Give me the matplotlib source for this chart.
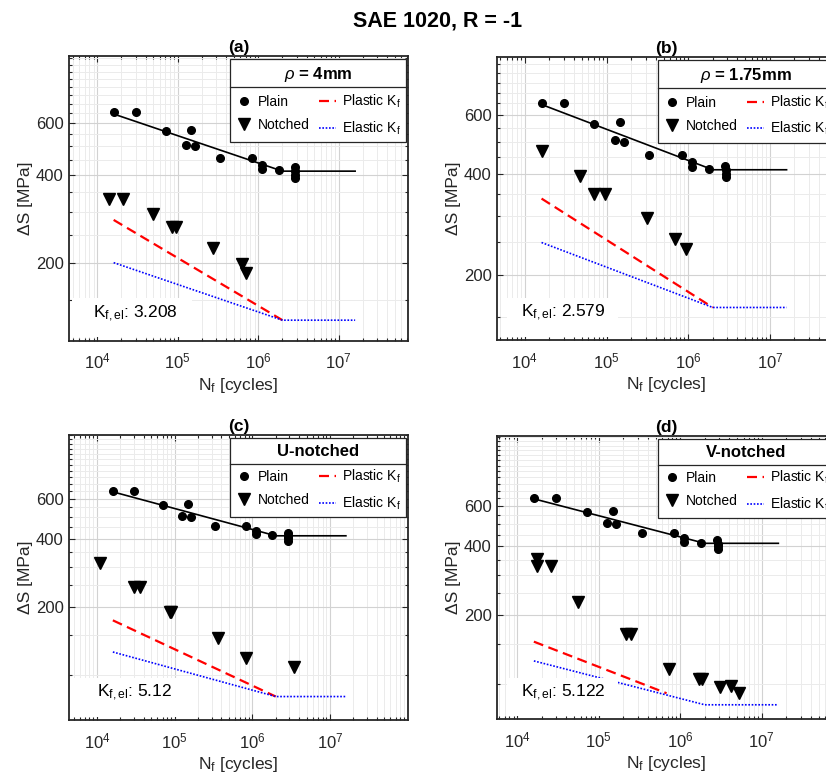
import numpy as np
import matplotlib
matplotlib.use('Agg')
import matplotlib.pyplot as plt
from matplotlib.ticker import LogLocator, FixedLocator, NullFormatter, FixedFormatter
from matplotlib.lines import Line2D
from matplotlib.patches import Rectangle
from matplotlib.transforms import IdentityTransform

plt.rcParams['font.family'] = ['Liberation Sans', 'DejaVu Sans']
plt.rcParams['mathtext.fontset'] = 'custom'
plt.rcParams['mathtext.rm'] = 'Liberation Sans'
plt.rcParams['mathtext.it'] = 'Liberation Sans:italic'
plt.rcParams['mathtext.bf'] = 'Liberation Sans:bold'

# plain specimens (same in every panel)
plain_N = [1.6e4, 3.0e4, 7.1e4, 1.26e5, 1.48e5, 1.62e5, 3.35e5, 8.3e5, 1.12e6, 1.12e6,
           1.8e6, 2.85e6, 2.9e6, 2.9e6, 2.9e6]
plain_S = [653, 653, 565, 504, 571, 500, 456, 456, 434, 419, 415, 424, 411, 401, 391]
fit_N = [1.6e4, 2e6, 1.6e7]
fit_S = [645, 412, 412]

# (a) rho = 4mm
notch_a_N = [1.42e4, 2.07e4, 4.9e4, 8.4e4, 9.4e4, 2.75e5, 6.3e5, 7.0e5]
notch_a_S = [331, 332, 294, 266, 266, 226, 199, 185]
plastic_a_N = [1.6e4, 2e6]
plastic_a_S = [281, 128]
elastic_a_S = [201, 128, 128]

# (b) rho = 1.75mm
notch_b_N = [1.63e4, 4.7e4, 7.1e4, 9.5e4, 3.1e5, 6.9e5, 9.4e5]
notch_b_S = [470, 396, 349, 349, 295, 256, 239]
plastic_b_N = [1.6e4, 2e6]
plastic_b_S = [338, 160]
elastic_b_S = [250, 160, 160]

# (c) U-notched
notch_c_N = [1.08e4, 3.0e4, 3.6e4, 8.7e4, 9.1e4, 3.6e5, 8.2e5, 3.4e6]
notch_c_S = [313, 244, 244, 189, 189, 145, 119, 108]
plastic_c_N = [1.6e4, 2e6]
plastic_c_S = [174, 80]
elastic_c_S = [126, 80, 80]

# (d) V-notched
notch_d_N = [1.76e4, 1.76e4, 2.6e4, 5.5e4, 2.16e5, 2.46e5, 7.3e5, 1.7e6, 1.85e6, 3.07e6, 4.15e6, 5.25e6]
notch_d_S = [352, 329, 329, 228, 165, 165, 116, 105, 105, 97, 98, 91]
plastic_d_N = [1.6e4, 6.8e5]
plastic_d_S = [153, 91]
elastic_d_S = [126, 81, 81]

panel_titles = ['(a)', '(b)', '(c)', '(d)']
legend_titles = [r'$\rho$ = 4mm', r'$\rho$ = 1.75mm', 'U-notched', 'V-notched']
kf_values = ['3.208', '2.579', '5.12', '5.122']

dark = '#262626'

fig = plt.figure(figsize=(8.26, 7.76), dpi=100)
fig.patch.set_facecolor('white')

panels = [
    dict(pos=[0.0839, 0.5610, 0.4097, 0.3669], xlim=(4.5e3, 7.2e7), ylim=(109, 1017),
         nN=notch_a_N, nS=notch_a_S, pN=plastic_a_N, pS=plastic_a_S, eS=elastic_a_S,
         box=(0.007, 0.012, 0.355, 0.138)),
    dict(pos=[0.6021, 0.5619, 0.4097, 0.3651], xlim=(4.6e3, 6.4e7), ylim=(128, 896),
         nN=notch_b_N, nS=notch_b_S, pN=plastic_b_N, pS=plastic_b_S, eS=elastic_b_S,
         box=(0.028, 0.012, 0.329, 0.135)),
    dict(pos=[0.0839, 0.0722, 0.4097, 0.3673], xlim=(4.4e3, 1e8), ylim=(63, 1152),
         nN=notch_c_N, nS=notch_c_S, pN=plastic_c_N, pS=plastic_c_S, eS=elastic_c_S,
         box=(0.007, 0.012, 0.355, 0.134)),
    dict(pos=[0.6021, 0.0731, 0.4097, 0.3651], xlim=(5.7e3, 8.1e7), ylim=(70, 1215),
         nN=notch_d_N, nS=notch_d_S, pN=plastic_d_N, pS=plastic_d_S, eS=elastic_d_S,
         box=(0.028, 0.012, 0.329, 0.133)),
]

legends = []
for i, p in enumerate(panels):
    ax = fig.add_axes(p['pos'])
    ax.set_xscale('log')
    ax.set_yscale('log')

    ax.plot(fit_N, fit_S, color='k', lw=1.2, zorder=3)
    h1, = ax.plot(plain_N, plain_S, 'o', color='k', ms=5.5, zorder=4)
    h2, = ax.plot(p['nN'], p['nS'], 'v', color='k', ms=8.5, zorder=4)
    h3, = ax.plot(p['pN'], p['pS'], color='#ff0000', lw=1.6, dashes=(4.5, 2.5), zorder=2)
    h4, = ax.plot(fit_N, p['eS'], color='#0000ff', lw=1.2, dashes=(1, 1), zorder=2)

    ax.set_xlim(*p['xlim'])
    ax.set_ylim(*p['ylim'])
    ax.xaxis.set_major_locator(FixedLocator([1e4, 1e5, 1e6, 1e7]))
    ax.xaxis.set_minor_locator(LogLocator(base=10, subs=np.arange(2, 10), numticks=30))
    ax.xaxis.set_minor_formatter(NullFormatter())
    ax.yaxis.set_major_locator(FixedLocator([200, 400, 600]))
    ax.yaxis.set_major_formatter(FixedFormatter(['200', '400', '600']))
    ax.yaxis.set_minor_locator(FixedLocator([v for v in range(50, 1300, 50) if v not in (200, 400, 600)]))
    ax.yaxis.set_minor_formatter(NullFormatter())

    ax.grid(True, which='major', color='#d2d2d2', lw=0.8)
    ax.grid(True, which='minor', color='#ebebeb', lw=0.7)
    ax.tick_params(which='both', direction='in', top=True, right=True, colors=dark,
                   labelsize=12, width=0.8)
    ax.tick_params(which='major', length=4)
    ax.tick_params(which='minor', length=2.2)
    ax.tick_params(axis='x', pad=8)
    ax.tick_params(axis='y', pad=4)
    for s in ax.spines.values():
        s.set_linewidth(1.3)
        s.set_color(dark)

    ax.set_xlabel(r'N$_\mathrm{f}$ [cycles]', fontsize=12.5, color=dark, labelpad=3)
    ax.set_ylabel('ΔS [MPa]', fontsize=12.5, color=dark, labelpad=2)
    ax.set_title(panel_titles[i], fontsize=12.5, fontweight='bold', pad=2.5)

    bx = p['box']
    ax.add_patch(Rectangle((bx[0], bx[1]), bx[2], bx[3], transform=ax.transAxes,
                           facecolor='white', edgecolor='none', zorder=5))
    ax.text(0.194, 0.081, r'K$_{\mathrm{f,el}}$: ' + kf_values[i], transform=ax.transAxes,
            ha='center', va='baseline', fontsize=12.5, color='k', zorder=6)

    leg = ax.legend([h1, h2, h3, h4],
                    ['Plain', 'Notched', r'Plastic K$_\mathrm{f}$', r'Elastic K$_\mathrm{f}$'],
                    ncol=2, loc='upper right', bbox_to_anchor=(0.995, 0.988),
                    title=legend_titles[i], title_fontproperties={'size': 12, 'weight': 'bold'},
                    fontsize=10, frameon=True, fancybox=False, framealpha=1, edgecolor=dark,
                    borderpad=0.4, labelspacing=0.65, handlelength=1.2, handletextpad=0.4,
                    columnspacing=0.7, borderaxespad=0)
    leg.get_frame().set_linewidth(0.9)
    leg.set_zorder(10)
    legends.append(leg)

fig.text(0.5297, 0.9733, 'SAE 1020, R = -1', ha='center', va='center',
         fontsize=15.5, fontweight='bold')

# separator line under each legend title
fig.canvas.draw()
renderer = fig.canvas.get_renderer()
for leg in legends:
    fb = leg.get_frame().get_window_extent(renderer)
    tb = leg.get_title().get_window_extent(renderer)
    y = (tb.y0 + tb.y1) / 2 - 12.7
    fig.add_artist(Line2D([fb.x0, fb.x1], [y, y], transform=IdentityTransform(),
                          color=dark, lw=0.9, zorder=11))

fig.savefig('out.png', dpi=100)
